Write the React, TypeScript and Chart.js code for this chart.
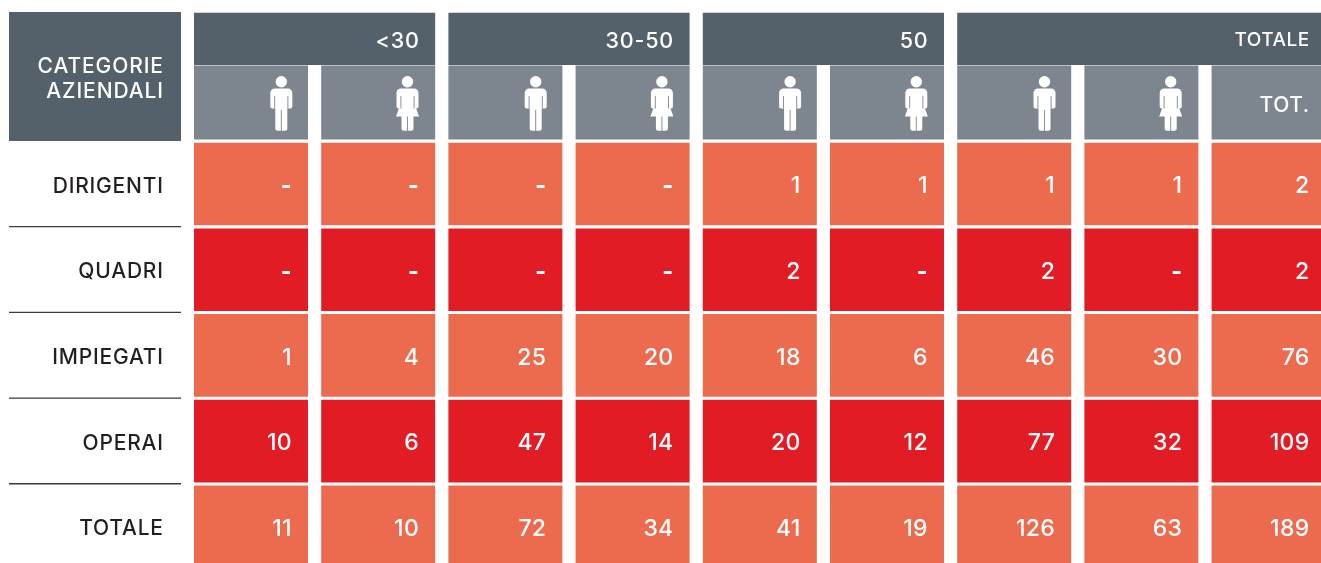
import React, { useEffect, useRef } from "react";
import { Chart, registerables } from "chart.js";

Chart.register(...registerables);

// ---- table content ----
const ageGroups = ["<30", "30-50", "50", "TOTALE"];
const rowLabels = ["DIRIGENTI", "QUADRI", "IMPIEGATI", "OPERAI", "TOTALE"];
const cornerLines = ["CATEGORIE", "AZIENDALI"];
const subHeaders = ["M", "F", "M", "F", "M", "F", "M", "F", "TOT."];
const dirigenti = [null, null, null, null, 1, 1, 1, 1, 2];
const quadri = [null, null, null, null, 2, null, 2, null, 2];
const impiegati = [1, 4, 25, 20, 18, 6, 46, 30, 76];
const operai = [10, 6, 47, 14, 20, 12, 77, 32, 109];
const totale = [11, 10, 72, 34, 41, 19, 126, 63, 189];
const rows = [dirigenti, quadri, impiegati, operai, totale];
const groupSpans = [[0, 1], [2, 3], [4, 5], [6, 8]];

// ---- look ----
const W = 1321;
const H = 563;
const COL_PITCH = 127.2;
const COL_ZERO = 251;
const ROW_PITCH = 85.7;
const ROW_ZERO = 142.7;
const CELL_W = 114;
const CELL_H = 82.6;
const DARK = "#54616a";
const GREY = "#7d858f";
const ORANGE = "#ec6b4f";
const RED = "#e21c24";
const INK = "#231f20";
const FONT = "Inter, 'Open Sans', sans-serif";
const LABEL_COL = (95 - COL_ZERO) / COL_PITCH;
const cellFrac = CELL_H / ROW_PITCH;
const yUnits = (px: number) => (px - ROW_ZERO) / ROW_PITCH;

function drawPerson(ctx: CanvasRenderingContext2D, cx: number, female: boolean) {
  ctx.save();
  ctx.fillStyle = "#fff";
  ctx.beginPath();
  ctx.arc(cx, 81.7, 5.7, 0, Math.PI * 2);
  ctx.fill();
  ctx.beginPath();
  ctx.roundRect(cx - 11, 88.5, 22, 20, [4.5, 4.5, 2, 2]);
  ctx.fill();
  ctx.beginPath();
  ctx.roundRect(cx - 6, 100, 12, 30.7, [0, 0, 2.5, 2.5]);
  ctx.fill();
  if (female) {
    ctx.beginPath();
    ctx.moveTo(cx - 7, 104);
    ctx.lineTo(cx + 7, 104);
    ctx.lineTo(cx + 11.5, 116.5);
    ctx.lineTo(cx - 11.5, 116.5);
    ctx.closePath();
    ctx.fill();
  }
  ctx.strokeStyle = GREY;
  ctx.lineWidth = 0.9;
  ctx.beginPath();
  ctx.moveTo(cx - 6.6, 96);
  ctx.lineTo(cx - 6.6, 108.5);
  ctx.moveTo(cx + 6.6, 96);
  ctx.lineTo(cx + 6.6, 108.5);
  ctx.moveTo(cx, female ? 116.5 : 110);
  ctx.lineTo(cx, 131);
  ctx.stroke();
  ctx.restore();
}

const tablePlugin = {
  id: "tableText",
  afterDatasetsDraw(chart: any) {
    const { ctx, scales } = chart;
    const x = scales.x;
    const y = scales.y;
    const right = (col: number) => x.getPixelForValue(col) + 40.6;
    const text = (s: string, px: number, py: number, size: number, color: string, spacing = 0, weight = 500) => {
      ctx.font = `${weight} ${size}px ${FONT}`;
      (ctx as any).letterSpacing = `${spacing}px`;
      ctx.fillStyle = color;
      ctx.fillText(s, px + spacing, py);
    };
    ctx.save();
    ctx.textAlign = "right";
    ctx.textBaseline = "middle";

    const labelRight = x.getPixelForValue(LABEL_COL) + 68;
    text(cornerLines[0], labelRight, y.getPixelForValue(yUnits(66.5)), 21, "#fff", 0.9);
    text(cornerLines[1], labelRight, y.getPixelForValue(yUnits(91.5)), 21, "#fff", 0.9);

    ageGroups.forEach((g, i) => {
      const last = groupSpans[i][1];
      const small = g === "TOTALE";
      text(g, right(last), y.getPixelForValue(yUnits(small ? 40.5 : 41.5)), small ? 19 : 21.5, "#fff", small ? 0.5 : 0.8);
    });

    subHeaders.forEach((s, c) => {
      const cx = x.getPixelForValue(c);
      if (s === "M") drawPerson(ctx, cx + 30.3, false);
      else if (s === "F") drawPerson(ctx, cx + 29.3, true);
      else text(s, right(c), y.getPixelForValue(yUnits(106)), 21, "#fff", 0.6);
    });

    rows.forEach((vals, r) => {
      const py = y.getPixelForValue(r) + 43.5;
      text(rowLabels[r], labelRight, py, 21, INK, 0.8);
      vals.forEach((v, c) => {
        if (v === null) text("-", right(c), py, 23, "#fff", 0, 800);
        else text(String(v), right(c), py, 23, "#fff", 0.3);
      });
    });
    ctx.restore();
  },
};

function barSet(data: any[], color: string, thickness: number) {
  return {
    type: "bar" as const,
    data,
    backgroundColor: color,
    borderWidth: 0,
    grouped: false,
    categoryPercentage: 20,
    barPercentage: 1,
    maxBarThickness: thickness,
  };
}

export default function App() {
  const ref = useRef<HTMLCanvasElement | null>(null);
  useEffect(() => {
    if (!ref.current) return;
    const cols = subHeaders.map((_, i) => i);
    const bodySets = rows.map((_, r) =>
      barSet(cols.map((c) => ({ x: c, y: [r, r + cellFrac] })), r % 2 === 0 ? ORANGE : RED, CELL_W)
    );
    const groupSets = groupSpans.map(([a, b]) =>
      barSet(
        [{ x: (a + b) / 2, y: [yUnits(12.7), yUnits(65)] }],
        DARK,
        (b - a) * COL_PITCH + CELL_W
      )
    );
    const chart = new Chart(ref.current, {
      data: {
        datasets: [
          barSet([{ x: LABEL_COL, y: [yUnits(12), yUnits(141)] }], DARK, 172),
          ...groupSets,
          barSet(cols.map((c) => ({ x: c, y: [yUnits(65.6), yUnits(139.6)] })), GREY, CELL_W),
          ...bodySets,
          barSet(
            rowLabels.slice(1).map((_, i) => ({ x: LABEL_COL, y: [i + 1 - 0.028, i + 1 - 0.012] })),
            "#3a3a3a",
            172
          ),
        ],
      },
      options: {
        animation: false,
        responsive: false,
        maintainAspectRatio: false,
        layout: { padding: 0 },
        plugins: { legend: { display: false }, tooltip: { enabled: false } },
        scales: {
          x: {
            type: "linear",
            display: false,
            offset: false,
            min: (0 - COL_ZERO) / COL_PITCH,
            max: (W - COL_ZERO) / COL_PITCH,
          },
          y: {
            type: "linear",
            display: false,
            reverse: true,
            min: yUnits(0),
            max: yUnits(H),
          },
        },
      },
      plugins: [tablePlugin],
    } as any);
    return () => chart.destroy();
  }, []);
  return (
    <div style={{ position: "fixed", left: 0, top: 0, width: W, height: H, background: "#fff" }}>
      <canvas ref={ref} width={W} height={H} style={{ display: "block" }} />
    </div>
  );
}
